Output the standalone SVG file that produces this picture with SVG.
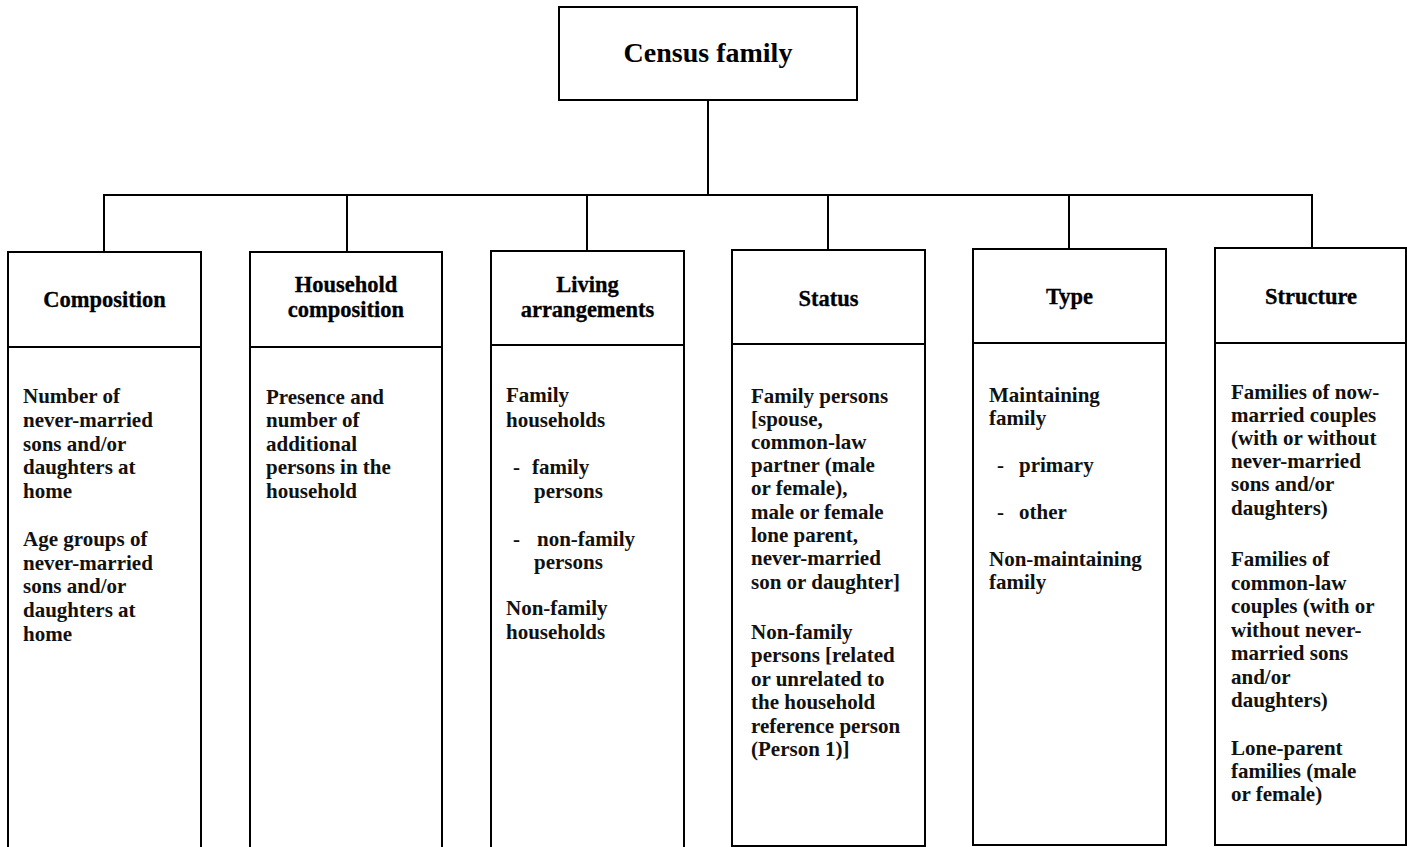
<svg xmlns="http://www.w3.org/2000/svg" width="1407" height="847" viewBox="0 0 1407 847">
  <style>
    .box { fill: none; stroke: #000; stroke-width: 2; }
    .wire { fill: none; stroke: #000; stroke-width: 2; }
    .title { font-family: "Liberation Serif", "Times New Roman", serif; font-weight: bold; font-size: 28px; fill: #000; text-anchor: middle; }
    .hd { font-family: "Liberation Serif", "Times New Roman", serif; font-weight: bold; font-size: 22.5px; fill: #000; text-anchor: middle; stroke: #000; stroke-width: 0.3; }
    .tx { font-family: "Liberation Serif", "Times New Roman", serif; font-weight: bold; font-size: 21px; fill: #111; }
  </style>
  <rect width="1407" height="847" fill="#fff"/>

  <!-- connectors: trunk, bus bar and drops to each column -->
  <g id="connectors">
    <path class="wire" d="M708 100 V195"/>
    <path class="wire" d="M104 251 V195 H1312 V248"/>
    <path class="wire" d="M347 195 V252"/>
    <path class="wire" d="M587 195 V251"/>
    <path class="wire" d="M828 195 V250"/>
    <path class="wire" d="M1069 195 V249"/>
  </g>

  <!-- root -->
  <g id="census-family">
    <rect class="box" x="559" y="7" width="298" height="93"/>
    <text class="title" x="708" y="62">Census family</text>
  </g>

  <!-- Composition -->
  <g id="composition">
    <path class="box" d="M8 849 V252 H201 V849 M8 347 H201"/>
    <text class="hd" x="104.5" y="307">Composition</text>
    <text class="tx" x="23">
      <tspan x="23" y="403">Number of</tspan>
      <tspan x="23" y="427">never-married</tspan>
      <tspan x="23" y="451">sons and/or</tspan>
      <tspan x="23" y="474">daughters at</tspan>
      <tspan x="23" y="498">home</tspan>
      <tspan x="23" y="546">Age groups of</tspan>
      <tspan x="23" y="570">never-married</tspan>
      <tspan x="23" y="593">sons and/or</tspan>
      <tspan x="23" y="617">daughters at</tspan>
      <tspan x="23" y="641">home</tspan>
    </text>
  </g>

  <!-- Household composition -->
  <g id="household-composition">
    <path class="box" d="M250 849 V252 H442 V849 M250 347 H442"/>
    <text class="hd" x="346" y="292">Household</text>
    <text class="hd" x="346" y="317">composition</text>
    <text class="tx">
      <tspan x="266" y="404">Presence and</tspan>
      <tspan x="266" y="427">number of</tspan>
      <tspan x="266" y="451">additional</tspan>
      <tspan x="266" y="474">persons in the</tspan>
      <tspan x="266" y="498">household</tspan>
    </text>
  </g>

  <!-- Living arrangements -->
  <g id="living-arrangements">
    <path class="box" d="M491 849 V251 H684 V849 M491 345 H684"/>
    <text class="hd" x="587.5" y="292">Living</text>
    <text class="hd" x="587.5" y="317">arrangements</text>
    <text class="tx">
      <tspan x="506" y="402">Family</tspan>
      <tspan x="506" y="427">households</tspan>
      <tspan x="513" y="474">-</tspan>
      <tspan x="532" y="474">family</tspan>
      <tspan x="534" y="498">persons</tspan>
      <tspan x="513" y="546">-</tspan>
      <tspan x="537" y="546">non-family</tspan>
      <tspan x="534" y="569">persons</tspan>
      <tspan x="506" y="615">Non-family</tspan>
      <tspan x="506" y="639">households</tspan>
    </text>
  </g>

  <!-- Status -->
  <g id="status">
    <path class="box" d="M732 250 H925 V846 H732 Z M732 344 H925"/>
    <text class="hd" x="828.5" y="306">Status</text>
    <text class="tx">
      <tspan x="751" y="403">Family persons</tspan>
      <tspan x="751" y="426">[spouse,</tspan>
      <tspan x="751" y="449">common-law</tspan>
      <tspan x="751" y="472">partner (male</tspan>
      <tspan x="751" y="495">or female),</tspan>
      <tspan x="751" y="519">male or female</tspan>
      <tspan x="751" y="542">lone parent,</tspan>
      <tspan x="751" y="565">never-married</tspan>
      <tspan x="751" y="589">son or daughter]</tspan>
      <tspan x="751" y="639">Non-family</tspan>
      <tspan x="751" y="662">persons [related</tspan>
      <tspan x="751" y="686">or unrelated to</tspan>
      <tspan x="751" y="709">the household</tspan>
      <tspan x="751" y="733">reference person</tspan>
      <tspan x="751" y="756">(Person 1)]</tspan>
    </text>
  </g>

  <!-- Type -->
  <g id="type">
    <path class="box" d="M973 249 H1166 V845 H973 Z M973 343 H1166"/>
    <text class="hd" x="1069.5" y="304">Type</text>
    <text class="tx">
      <tspan x="989" y="402">Maintaining</tspan>
      <tspan x="989" y="425">family</tspan>
      <tspan x="997" y="472">-</tspan>
      <tspan x="1019" y="472">primary</tspan>
      <tspan x="997" y="519">-</tspan>
      <tspan x="1019" y="519">other</tspan>
      <tspan x="989" y="566">Non-maintaining</tspan>
      <tspan x="989" y="589">family</tspan>
    </text>
  </g>

  <!-- Structure -->
  <g id="structure">
    <path class="box" d="M1215 248 H1406 V845 H1215 Z M1215 343 H1406"/>
    <text class="hd" x="1311" y="304">Structure</text>
    <text class="tx">
      <tspan x="1231" y="399">Families of now-</tspan>
      <tspan x="1231" y="422">married couples</tspan>
      <tspan x="1231" y="445">(with or without</tspan>
      <tspan x="1231" y="468">never-married</tspan>
      <tspan x="1231" y="491">sons and/or</tspan>
      <tspan x="1231" y="515">daughters)</tspan>
      <tspan x="1231" y="566">Families of</tspan>
      <tspan x="1231" y="590">common-law</tspan>
      <tspan x="1231" y="613">couples (with or</tspan>
      <tspan x="1231" y="637">without never-</tspan>
      <tspan x="1231" y="660">married sons</tspan>
      <tspan x="1231" y="684">and/or</tspan>
      <tspan x="1231" y="707">daughters)</tspan>
      <tspan x="1231" y="755">Lone-parent</tspan>
      <tspan x="1231" y="778">families (male</tspan>
      <tspan x="1231" y="801">or female)</tspan>
    </text>
  </g>
</svg>
